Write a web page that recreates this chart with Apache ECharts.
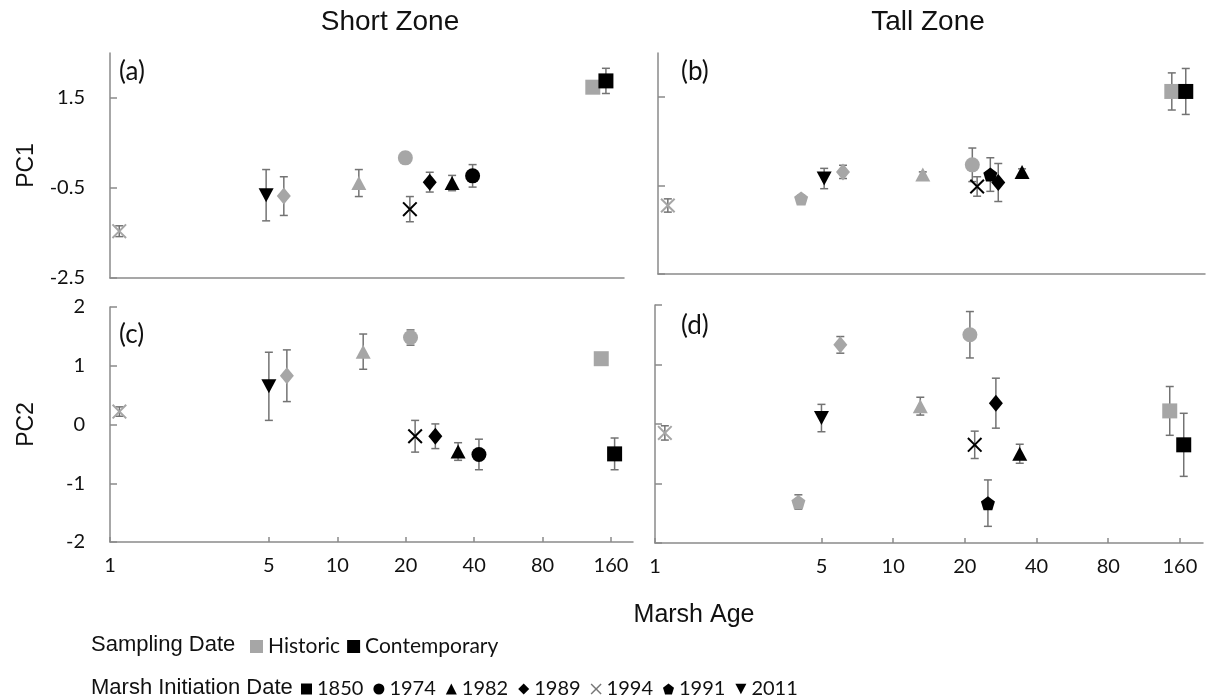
<!DOCTYPE html>
<html>
<head>
<meta charset="utf-8">
<script src="https://cdn.jsdelivr.net/npm/echarts@6/dist/echarts.min.js"></script>
<style>
  html, body { margin: 0; padding: 0; background: #ffffff; }
  #chart { width: 1206px; height: 700px; }
</style>
</head>
<body>
<div id="chart"></div>
<script>
// Marsh initiation years and marsh age (years) at each sampling date
const years = ['1850', '1974', '1982', '1989', '1994', '1991', '2011'];
const ageHistoric = [145, 21, 13, 6, 1.1, 4, null];
const ageContemporary = [166, 42, 34, 27, 22, 25, 5];

// Axis tick values
const ageTicks = [1, 5, 10, 20, 40, 80, 160];
const pc1Ticks = [-2.5, -0.5, 1.5];
const pc2Ticks = [-2, -1, 0, 1, 2];

// (a) Short zone, PC1 — mean and standard error, in `years` order
const shortPC1Hist   = [1.74, 0.17, -0.39, -0.68, -1.46, null, null];
const shortPC1HistSE = [0.08, 0.12, 0.30, 0.43, 0.12, null, null];
const shortPC1Cont   = [1.88, -0.23, -0.39, -0.37, -0.97, null, -0.66];
const shortPC1ContSE = [0.28, 0.25, 0.17, 0.22, 0.28, null, 0.57];

// (b) Tall zone, PC1
const tallPC1Hist   = [1.63, -0.03, -0.25, -0.19, -0.95, -0.79, null];
const tallPC1HistSE = [0.42, 0.38, 0.06, 0.15, 0.15, 0.07, null];
const tallPC1Cont   = [1.63, null, -0.19, -0.43, -0.52, -0.25, -0.34];
const tallPC1ContSE = [0.52, null, 0.07, 0.43, 0.22, 0.38, 0.23];

// (c) Short zone, PC2
const shortPC2Hist   = [1.12, 1.48, 1.24, 0.83, 0.22, null, null];
const shortPC2HistSE = [0.10, 0.13, 0.30, 0.44, 0.08, null, null];
const shortPC2Cont   = [-0.50, -0.51, -0.46, -0.20, -0.20, null, 0.65];
const shortPC2ContSE = [0.27, 0.26, 0.15, 0.21, 0.27, null, 0.58];

// (d) Tall zone, PC2
const tallPC2Hist   = [0.22, 1.50, 0.30, 1.33, -0.15, -1.31, null];
const tallPC2HistSE = [0.41, 0.39, 0.15, 0.14, 0.12, 0.12, null];
const tallPC2Cont   = [-0.35, null, -0.50, 0.35, -0.35, -1.33, 0.10];
const tallPC2ContSE = [0.53, null, 0.16, 0.42, 0.23, 0.39, 0.23];

const panelData = [
  { hist: shortPC1Hist, histSE: shortPC1HistSE, cont: shortPC1Cont, contSE: shortPC1ContSE },
  { hist: tallPC1Hist,  histSE: tallPC1HistSE,  cont: tallPC1Cont,  contSE: tallPC1ContSE },
  { hist: shortPC2Hist, histSE: shortPC2HistSE, cont: shortPC2Cont, contSE: shortPC2ContSE },
  { hist: tallPC2Hist,  histSE: tallPC2HistSE,  cont: tallPC2Cont,  contSE: tallPC2ContSE }
];

// ---- styling ----
const GRAY = '#a6a6a6';
const BLACK = '#000000';
const AXIS = '#8a8a8a';
const BAR = '#737373';
const NUM_FONT = 'Lato';
const HEAD_FONT = '"Liberation Sans", Arial, sans-serif';

const crossPath = 'path://M1.5,0 L8,6.5 L14.5,0 L16,1.5 L9.5,8 L16,14.5 L14.5,16 L8,9.5 L1.5,16 L0,14.5 L6.5,8 L0,1.5 Z';
const pentagonPath = 'path://M8,0 L16,6 L13,16 L3,16 L0,6 Z';
const downTrianglePath = 'path://M0,0 L16,0 L8,15 Z';
const yearSymbol = ['rect', 'circle', 'triangle', 'diamond', crossPath, pentagonPath, 'triangle'];
const yearRotate = [0, 0, 0, 0, 0, 0, 180];
const yearSize = [[15, 15], [15, 15], [15, 14], [14, 17], [15, 15], [14, 14], [15, 14]];

const grids = [
  { left: 110, top: 53,  width: 514, height: 225 },
  { left: 658, top: 53,  width: 547, height: 221 },
  { left: 110, top: 307, width: 523, height: 235 },
  { left: 655, top: 305, width: 548, height: 238 }
].map(g => Object.assign({ outerBoundsMode: 'none', containLabel: false }, g));

const xAxes = grids.map((g, i) => {
  const bottomRow = i >= 2;
  return {
    type: 'log', logBase: 2, gridIndex: i, min: 1, max: 200,
    splitLine: { show: false },
    axisLine: { show: true, onZero: false, lineStyle: { color: AXIS, width: 1.5 } },
    axisTick: { show: bottomRow, inside: true, length: 5, customValues: ageTicks,
                lineStyle: { color: AXIS, width: 1.5 } },
    axisLabel: { show: bottomRow, customValues: ageTicks, margin: 14,
                 fontFamily: NUM_FONT, fontSize: 20, color: '#111' },
    minorTick: { show: false }
  };
});

const yAxes = grids.map((g, i) => {
  const isPC1 = i < 2;
  const leftCol = i % 2 === 0;
  const ticks = isPC1 ? pc1Ticks : pc2Ticks;
  return {
    type: 'value', gridIndex: i,
    min: isPC1 ? -2.5 : -2, max: isPC1 ? 2.5 : 2,
    name: leftCol ? (isPC1 ? 'PC1' : 'PC2') : '',
    nameLocation: 'middle', nameRotate: 90, nameGap: 72,
    nameTextStyle: { fontFamily: HEAD_FONT, fontSize: 23, color: '#111' },
    splitLine: { show: false },
    axisLine: { show: true, onZero: false, lineStyle: { color: AXIS, width: 1.5 } },
    axisTick: { show: true, inside: true, length: 7, customValues: ticks,
                lineStyle: { color: AXIS, width: 1.5 } },
    axisLabel: { show: leftCol, customValues: ticks, margin: 25,
                 fontFamily: NUM_FONT, fontSize: 20, color: '#111' }
  };
});

// Vertical error bar with end caps
function renderErrorBar(params, api) {
  const x = api.value(0);
  const top = api.coord([x, api.value(3)]);
  const bot = api.coord([x, api.value(2)]);
  const half = 4;
  const style = { stroke: BAR, lineWidth: 1.5, fill: null };
  return {
    type: 'group',
    children: [
      { type: 'line', shape: { x1: top[0], y1: top[1], x2: bot[0], y2: bot[1] }, style: style },
      { type: 'line', shape: { x1: top[0] - half, y1: top[1], x2: top[0] + half, y2: top[1] }, style: style },
      { type: 'line', shape: { x1: bot[0] - half, y1: bot[1], x2: bot[0] + half, y2: bot[1] }, style: style }
    ]
  };
}

function barData(ages, means, ses) {
  const out = [];
  means.forEach((m, k) => {
    if (m === null || ages[k] === null) return;
    out.push([ages[k], m, m - ses[k], m + ses[k]]);
  });
  return out;
}

const series = [];
panelData.forEach((p, gi) => {
  series.push({
    type: 'custom', name: 'Historic', xAxisIndex: gi, yAxisIndex: gi, z: 2,
    itemStyle: { color: GRAY }, renderItem: renderErrorBar,
    encode: { x: 0, y: [1, 2, 3] },
    data: barData(ageHistoric, p.hist, p.histSE)
  });
  series.push({
    type: 'custom', name: 'Contemporary', xAxisIndex: gi, yAxisIndex: gi, z: 2,
    itemStyle: { color: BLACK }, renderItem: renderErrorBar,
    encode: { x: 0, y: [1, 2, 3] },
    data: barData(ageContemporary, p.cont, p.contSE)
  });
  years.forEach((yr, k) => {
    const pts = [];
    if (p.hist[k] !== null && ageHistoric[k] !== null) {
      pts.push({ value: [ageHistoric[k], p.hist[k]], itemStyle: { color: GRAY } });
    }
    if (p.cont[k] !== null) {
      pts.push({ value: [ageContemporary[k], p.cont[k]], itemStyle: { color: BLACK } });
    }
    series.push({
      type: 'scatter', name: yr, xAxisIndex: gi, yAxisIndex: gi, z: 3,
      symbol: yearSymbol[k], symbolRotate: yearRotate[k], symbolSize: yearSize[k],
      symbolKeepAspect: false,
      itemStyle: { color: BLACK, opacity: 1 },
      emphasis: { disabled: true },
      data: pts
    });
  });
});

function headText(x, y, text, size, align, font) {
  return {
    type: 'text', x: x, y: y, silent: true,
    style: { text: text, fontFamily: font || HEAD_FONT, fontSize: size, fill: '#111',
             align: align || 'center', verticalAlign: 'middle' }
  };
}

const option = {
  animation: false,
  backgroundColor: '#ffffff',
  grid: grids,
  xAxis: xAxes,
  yAxis: yAxes,
  series: series,
  legend: [
    {
      left: 250, top: 636, orient: 'horizontal', padding: 0,
      selectedMode: false, icon: 'rect', itemWidth: 13, itemHeight: 13, itemGap: 7,
      textStyle: { fontFamily: NUM_FONT, fontSize: 21, color: '#111' },
      data: ['Historic', 'Contemporary']
    },
    {
      left: 301, top: 679, orient: 'horizontal', padding: 0,
      selectedMode: false, itemWidth: 11, itemHeight: 11, itemGap: 10,
      textStyle: { fontFamily: NUM_FONT, fontSize: 20, color: '#111' },
      data: years.map((yr, k) => ({
        name: yr,
        icon: k === 6 ? downTrianglePath : (typeof yearSymbol[k] === 'string' ? yearSymbol[k] : (k === 4 ? 'path://M0,0 L1,0 L8,7 L15,0 L16,0 L16,1 L9,8 L16,15 L16,16 L15,16 L8,9 L1,16 L0,16 L0,15 L7,8 L0,1 Z' : yearSymbol[k])),
        itemStyle: k === 4 ? { color: '#777' } : undefined
      }))
    }
  ],
  graphic: [
    headText(390, 22, 'Short Zone', 28),
    headText(928, 22, 'Tall Zone', 28),
    headText(694, 615, 'Marsh Age', 25),
    headText(91, 645, 'Sampling Date', 22, 'left'),
    headText(91, 688, 'Marsh Initiation Date', 22, 'left'),
    headText(119, 72, '(a)', 26, 'left', NUM_FONT),
    headText(681, 72, '(b)', 26, 'left', NUM_FONT),
    headText(119, 335, '(c)', 26, 'left', NUM_FONT),
    headText(681, 326, '(d)', 26, 'left', NUM_FONT)
  ]
};

const chart = echarts.init(document.getElementById('chart'), null, { renderer: 'canvas' });
chart.setOption(option);
</script>
</body>
</html>
